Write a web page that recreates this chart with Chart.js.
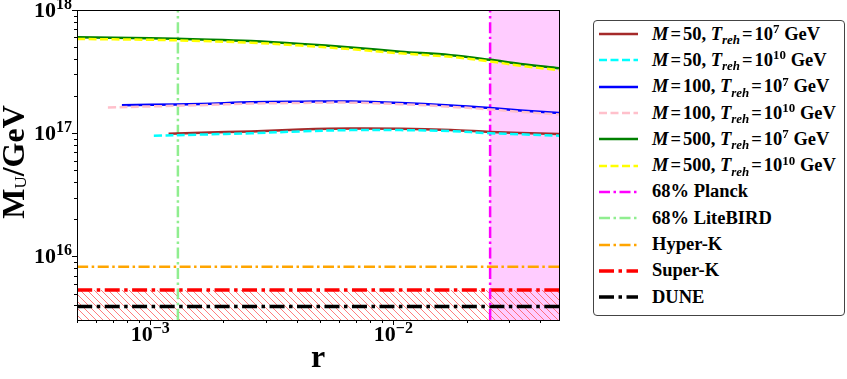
<!DOCTYPE html>
<html>
<head>
<meta charset="utf-8">
<title>M_U vs r</title>
<script src="https://cdn.jsdelivr.net/npm/chart.js@4.4.1/dist/chart.umd.min.js"></script>
<style>
  html,body{margin:0;padding:0;background:#fff;}
  #wrap{position:relative;width:847px;height:379px;}
  #legend{position:absolute;left:593px;top:20px;width:252px;height:296px;box-sizing:border-box;
    border:1px solid #444;border-radius:4px;background:#fff;font:bold 18.5px "Liberation Serif",serif;color:#000;}
  #legend .row{height:26.3px;display:flex;align-items:center;white-space:nowrap;}
  #legend svg{margin-left:5px;margin-right:14px;flex:none;}
  #legend sub,#legend sup{font-size:0.7em;line-height:0;position:relative;vertical-align:baseline;}
  #legend sup{top:-0.5em}
  #legend sub{top:0.35em}
  #legend .eq{margin:0 2px;}
</style>
</head>
<body>
<div id="wrap">
  <canvas id="c" width="847" height="379"></canvas>
  <div id="legend"></div>
</div>
<script>
/* axis ranges */
const X_MIN = 5e-4, X_MAX = 0.048;
const Y_MIN = 3.05e15, Y_MAX = 1e18;

/* M = 50 */
const r_M50_T7   = [1.19e-3, 1.62e-3, 2.6e-3, 4.16e-3, 6.68e-3, 1.07e-2, 1.72e-2, 2.5e-2, 3.33e-2, 4.8e-2];
const mu_M50_T7  = [0.99e17, 1.01e17, 1.035e17, 1.07e17, 1.09e17, 1.085e17, 1.06e17, 1.025e17, 1.005e17, 0.985e17];
const r_M50_T10  = [1.035e-3, 1.62e-3, 2.6e-3, 4.16e-3, 6.68e-3, 1.07e-2, 1.72e-2, 2.5e-2, 3.33e-2, 4.8e-2];
const mu_M50_T10 = [0.955e17, 0.975e17, 1.0e17, 1.035e17, 1.06e17, 1.06e17, 1.04e17, 1.0e17, 0.98e17, 0.955e17];
/* M = 100 */
const r_M100_T7   = [7.65e-4, 1.0e-3, 1.62e-3, 2.6e-3, 4.16e-3, 6.68e-3, 1.07e-2, 1.72e-2, 2.5e-2, 3.33e-2, 4.8e-2];
const mu_M100_T7  = [1.69e17, 1.70e17, 1.73e17, 1.78e17, 1.80e17, 1.81e17, 1.76e17, 1.68e17, 1.60e17, 1.53e17, 1.46e17];
const r_M100_T10  = [6.7e-4, 1.0e-3, 1.62e-3, 2.6e-3, 4.16e-3, 6.68e-3, 1.07e-2, 1.72e-2, 2.5e-2, 3.33e-2, 4.8e-2];
const mu_M100_T10 = [1.62e17, 1.65e17, 1.69e17, 1.74e17, 1.76e17, 1.77e17, 1.72e17, 1.64e17, 1.56e17, 1.49e17, 1.42e17];
/* M = 500 */
const r_M500     = [5e-4, 1.0e-3, 1.62e-3, 2.6e-3, 4.16e-3, 6.68e-3, 1.07e-2, 1.72e-2, 2.5e-2, 3.33e-2, 4.8e-2];
const mu_M500_T7  = [6.0e17, 5.9e17, 5.77e17, 5.6e17, 5.31e17, 4.96e17, 4.59e17, 4.3e17, 3.94e17, 3.65e17, 3.37e17];
const mu_M500_T10 = [5.82e17, 5.73e17, 5.6e17, 5.43e17, 5.15e17, 4.81e17, 4.45e17, 4.17e17, 3.82e17, 3.53e17, 3.25e17];

/* bounds */
const r_planck = 0.025, r_litebird = 1.3e-3;
const mu_hyperK = 8.26e15, mu_superK = 5.34e15, mu_dune = 3.92e15;

const SERIF = '"Liberation Serif", "DejaVu Serif", serif';

function pts(xs, ys){ return xs.map((x,i)=>({x, y: ys[i]})); }
function hline(v){ return [{x:X_MIN,y:v},{x:X_MAX,y:v}]; }
function vline(v){ return [{x:v,y:Y_MIN},{x:v,y:Y_MAX}]; }

/* red "\\" hatch for the Super-K excluded band */
function hatch(color){
  const s = 7, p = document.createElement('canvas');
  p.width = s; p.height = s;
  const g = p.getContext('2d');
  g.strokeStyle = color; g.lineWidth = 1;
  g.beginPath();
  g.moveTo(0,0); g.lineTo(s,s);
  g.moveTo(-1,s-1); g.lineTo(1,s+1);
  g.moveTo(s-1,-1); g.lineTo(s+1,1);
  g.stroke();
  return g.createPattern(p,'repeat');
}

const DASH = [8,3.5], DASHDOT = [11,3.5,2.5,3.5], DASHDOT_W = [15,4.5,3.5,4.5];
function curve(label, data, color, dash, order, width){
  return {label, data, borderColor: color, borderWidth: width || 2.5, borderDash: dash||[], order,
          pointRadius: 0, tension: 0.35, fill: false};
}

const datasets = [
  curve('M = 50, T_reh = 10^7 GeV',   pts(r_M50_T7, mu_M50_T7),    '#a52a2a', null, 2),
  curve('M = 50, T_reh = 10^10 GeV',  pts(r_M50_T10, mu_M50_T10),  '#00ffff', DASH, 1),
  curve('M = 100, T_reh = 10^7 GeV',  pts(r_M100_T7, mu_M100_T7),  '#0000ff', null, 2),
  curve('M = 100, T_reh = 10^10 GeV', pts(r_M100_T10, mu_M100_T10),'#ffc0cb', DASH, 1),
  curve('M = 500, T_reh = 10^7 GeV',  pts(r_M500, mu_M500_T7),     '#008000', null, 2),
  curve('M = 500, T_reh = 10^10 GeV', pts(r_M500, mu_M500_T10),    '#ffff00', DASH, 1),
  curve('68% Planck',   vline(r_planck),   '#ff00ff', DASHDOT, 3),
  curve('68% LiteBIRD', vline(r_litebird), '#90ee90', DASHDOT, 3),
  curve('Hyper-K', hline(mu_hyperK), '#ffa500', DASHDOT, 4),
  Object.assign(curve('Super-K', hline(mu_superK), '#ff0000', DASHDOT_W, 6, 3.5),
                {fill: 'start', backgroundColor: hatch('rgba(255,70,70,0.7)')}),
  curve('DUNE', hline(mu_dune), '#000000', DASHDOT_W, 4, 3.5),
  /* Planck-excluded region, no legend entry */
  {data: [{x:r_planck,y:Y_MAX},{x:X_MAX,y:Y_MAX}], borderWidth: 0, pointRadius: 0,
   fill: 'start', backgroundColor: 'rgba(255,0,255,0.2)', order: 10, noLegend: true}
];

/* log ticks 1..9 x 10^n inside the range */
function logTicks(min, max){
  const out = [];
  for (let e = Math.floor(Math.log10(min)); e <= Math.ceil(Math.log10(max)); e++)
    for (let s = 1; s <= 9; s++){
      const v = s * Math.pow(10, e);
      if (v >= min*0.999 && v <= max*1.001) out.push({value: v, major: s === 1});
    }
  return out;
}

function supLabel(v){
  const e = Math.round(Math.log10(v));
  return e < 0 ? '\u2212' + (-e) : String(e);
}

const axesPlugin = {
  id: 'axesPlugin',
  afterDraw(chart){
    const {ctx, chartArea: a, scales: {x, y}} = chart;
    ctx.save();
    ctx.strokeStyle = '#000'; ctx.fillStyle = '#000'; ctx.lineWidth = 1;
    ctx.strokeRect(a.left + 0.5, a.top + 0.5, a.right - a.left, a.bottom - a.top);
    ctx.beginPath();
    x.ticks.forEach(t => {
      const px = Math.round(x.getPixelForValue(t.value)) + 0.5, len = t.major ? 5 : 3;
      ctx.moveTo(px, a.bottom); ctx.lineTo(px, a.bottom + len);
    });
    y.ticks.forEach(t => {
      const py = Math.round(y.getPixelForValue(t.value)) + 0.5, len = t.major ? 5 : 3;
      ctx.moveTo(a.left, py); ctx.lineTo(a.left - len, py);
    });
    ctx.stroke();

    const big = 'bold 22px ' + SERIF, small = 'bold 16px ' + SERIF;
    ctx.textBaseline = 'alphabetic'; ctx.textAlign = 'left';
    const draw10 = (v, x0, base) => {
      const s = supLabel(v);
      ctx.font = big; const w1 = ctx.measureText('10').width;
      ctx.fillText('10', x0, base);
      ctx.font = small; ctx.fillText(s, x0 + w1, base - 8);
    };
    const width10 = v => { ctx.font = big; const w1 = ctx.measureText('10').width;
      ctx.font = small; return w1 + ctx.measureText(supLabel(v)).width; };

    x.ticks.filter(t => t.major).forEach(t => {
      const px = x.getPixelForValue(t.value);
      draw10(t.value, px - width10(t.value)/2, a.bottom + 21);
    });
    y.ticks.filter(t => t.major).forEach(t => {
      const py = y.getPixelForValue(t.value);
      draw10(t.value, a.left - 5 - width10(t.value), py + 7);
    });

    /* y axis title: M_U/GeV */
    ctx.translate(24, 162); ctx.rotate(-Math.PI/2);
    const fM = 'bold 32px ' + SERIF, fU = '17px ' + SERIF;
    ctx.font = fM; const wM = ctx.measureText('M').width, wR = ctx.measureText('/GeV').width;
    ctx.font = fU; const wU = ctx.measureText('U').width;
    let x0 = -(wM + wU + wR)/2;
    ctx.font = fM; ctx.fillText('M', x0, 0);
    ctx.font = fU; ctx.fillText('U', x0 + wM, 2);
    ctx.font = fM; ctx.fillText('/GeV', x0 + wM + wU, 0);
    ctx.restore();
  }
};

function labelHtml(s){
  return s.replace(/^M = /, '<i>M</i><span class="eq">=</span>')
          .replace('T_reh = ', '<i>T</i><sub><i>reh</i></sub><span class="eq">=</span>')
          .replace(/10\^(\d+)/, '10<sup>$1</sup>');
}

const htmlLegend = {
  id: 'htmlLegend',
  afterUpdate(chart){
    const box = document.getElementById('legend');
    box.innerHTML = '';
    chart.data.datasets.forEach(ds => {
      if (ds.noLegend) return;
      const row = document.createElement('div');
      row.className = 'row';
      const dash = (ds.borderDash || []).join(',');
      row.innerHTML = `<svg width="39" height="8"><line x1="0" y1="4" x2="39" y2="4" stroke="${ds.borderColor}"
        stroke-width="${ds.borderWidth}" ${dash ? `stroke-dasharray="${dash}"` : ''}/></svg><span>${labelHtml(ds.label)}</span>`;
      box.appendChild(row);
    });
  }
};

new Chart(document.getElementById('c'), {
  type: 'line',
  data: { datasets },
  options: {
    responsive: false,
    animation: false,
    layout: { padding: { left: 0, right: 288, top: 10, bottom: 0 } },
    plugins: { legend: { display: false }, tooltip: { enabled: false } },
    scales: {
      x: {
        type: 'logarithmic', min: X_MIN, max: X_MAX,
        grid: { display: false }, border: { display: false },
        ticks: { display: false },
        afterBuildTicks: s => { s.ticks = logTicks(s.min, s.max); },
        afterFit: s => { s.height = 59; },
        title: { display: true, text: 'r', color: '#000',
                 font: { family: SERIF, size: 32, weight: 'bold' }, padding: { top: 0, bottom: 1 } }
      },
      y: {
        type: 'logarithmic', min: Y_MIN, max: Y_MAX,
        grid: { display: false }, border: { display: false },
        ticks: { display: false },
        afterBuildTicks: s => { s.ticks = logTicks(s.min, s.max); },
        afterFit: s => { s.width = 77; }
      }
    }
  },
  plugins: [axesPlugin, htmlLegend]
});
</script>
</body>
</html>
